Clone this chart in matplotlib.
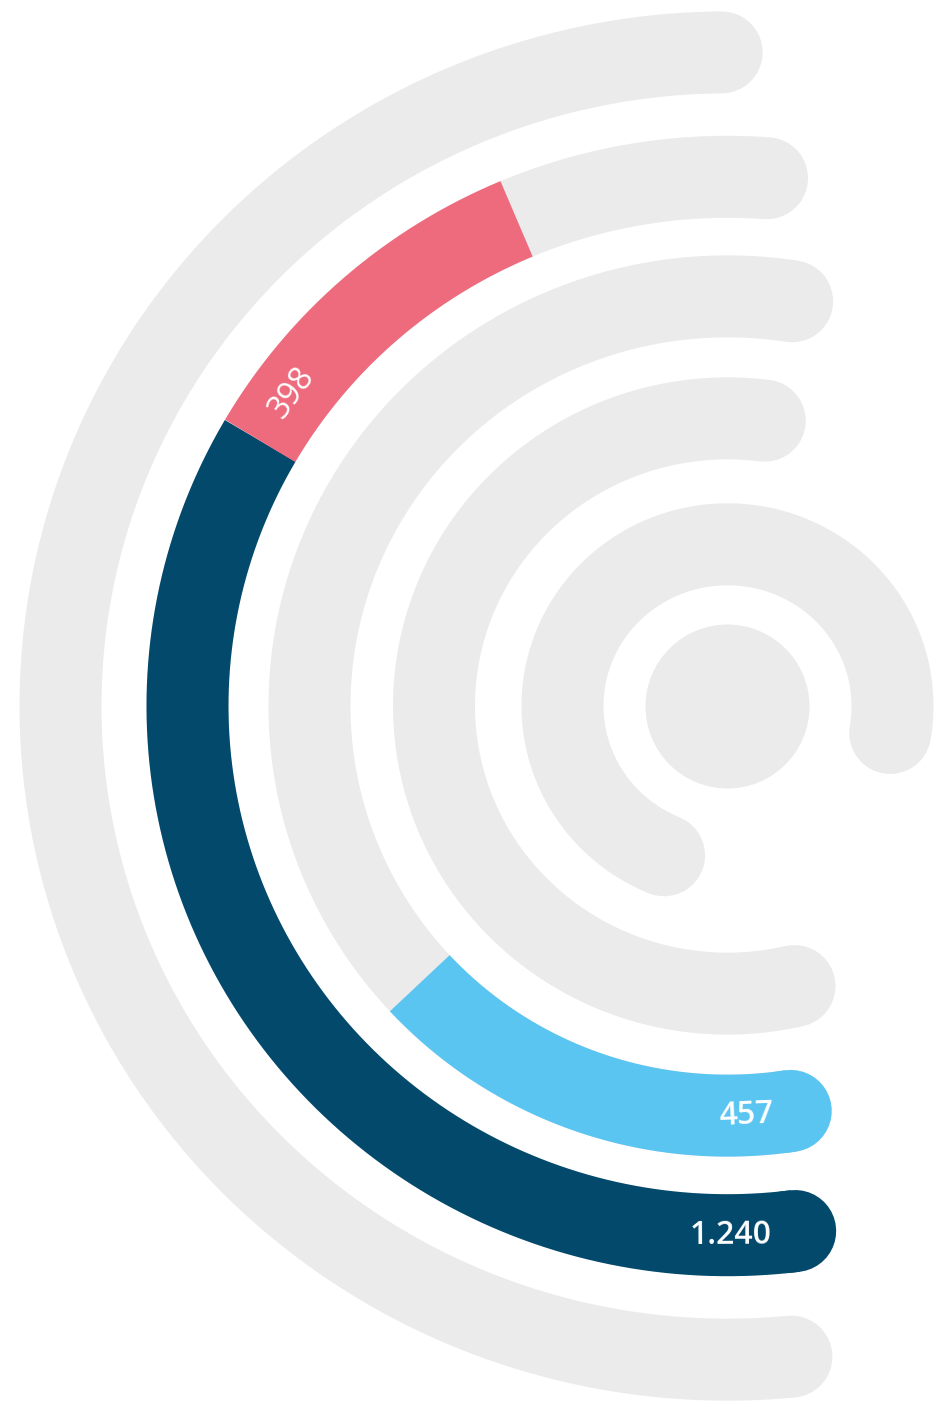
import numpy as np
import matplotlib
matplotlib.use("Agg")
import matplotlib.pyplot as plt
from matplotlib import font_manager as fm

# ---------------- data ----------------
bar_values = [1240, 398, 457]            # segment values
bar_labels = ["1.240", "398", "457"]     # printed labels
bar_ring = [4, 4, 3]                     # ring (0 = innermost disc) carrying each segment

# ---------------- layout / style ----------------
DPI = 100
W, H = 934, 1404
CX, CY = 727.5, 706.0            # ring centre, px from top-left
Y_SQUASH = 0.98                  # slight vertical compression of the rings
R_MAX = 750.0                    # radial extent of the polar axes (px units)
RING_R = [41, 165, 293.5, 418, 540, 667]   # mid radius of each ring (px)
BAND_PX = 82                     # ring thickness
ZERO_DEG = 265.0                 # math angle where value 0 sits
DEG_PER_UNIT = 0.0928            # angular scale (clockwise)
# grey track extents in the value frame (degrees clockwise from ZERO_DEG)
TRACK_SPAN = {1: (17.6, 274.6), 2: (-18.2, 182.3), 3: (-13.7, 183.9),
              4: (-12.2, 179.2), 5: (-10.5, 174.5)}
TRACK_COLOR = "#ebebeb"
SEG_COLORS = ["#02496c", "#ee6b7e", "#5bc5f2"]
LABEL_SHIFT_PX = [-50, 58, -55]  # label centre offset along the arc from segment start
LABEL_SIZE = [23, 23, 23]
LABEL_BOLD = [True, False, True]


def _w(w):
    if isinstance(w, (int, float)):
        return int(w)
    return fm.weight_dict.get(str(w).lower(), 400)


def pick_family(candidates, lo, hi, target):
    for fam in candidates:
        ws = [_w(e.weight) for e in fm.fontManager.ttflist if e.name == fam]
        ok = [w for w in ws if lo <= w <= hi]
        if ok:
            return fam, min(ok, key=lambda w: abs(w - target))
    return "DejaVu Sans", target


CANDIDATES = ["Open Sans", "Noto Sans", "Lato", "Roboto", "Inter", "Liberation Sans"]
BOLD_FAM, BOLD_W = pick_family(CANDIDATES, 550, 700, 600)
REG_FAM, REG_W = pick_family(CANDIDATES, 350, 450, 400)

fig = plt.figure(figsize=(W / DPI, H / DPI), dpi=DPI)
fig.patch.set_facecolor("white")
hw, hh = R_MAX, R_MAX * Y_SQUASH
ax = fig.add_axes([(CX - hw) / W, (H - CY - hh) / H, 2 * hw / W, 2 * hh / H],
                  projection="polar")
ax.set_theta_offset(np.deg2rad(ZERO_DEG))
ax.set_theta_direction(-1)
ax.set_ylim(0, R_MAX)
ax.set_axis_off()
ax.set_aspect("auto")

lw = BAND_PX * 72.0 / DPI


def arc(t0, t1, r, color, cap, z):
    th = np.deg2rad(np.linspace(t0, t1, 800))
    ax.plot(th, np.full_like(th, r), color=color, lw=lw,
            solid_capstyle=cap, zorder=z, clip_on=False)


# grey tracks (innermost one is a full disc)
ax.plot([0], [0], marker="o", ms=2 * lw, color=TRACK_COLOR, mew=0,
        zorder=1, clip_on=False)
for ring, (a, b) in TRACK_SPAN.items():
    arc(a, b, RING_R[ring], TRACK_COLOR, "round", 1)

# coloured stacked segments
base = {}
for v, lab, ring, col, shift, fs, bold in zip(bar_values, bar_labels, bar_ring,
                                              SEG_COLORS, LABEL_SHIFT_PX,
                                              LABEL_SIZE, LABEL_BOLD):
    b0 = base.get(ring, 0)
    b1 = b0 + v
    base[ring] = b1
    r = RING_R[ring]
    t_start = b0 * DEG_PER_UNIT if b0 > 0 else TRACK_SPAN[ring][0]
    t_end = b1 * DEG_PER_UNIT
    arc(t_start, t_end, r, col, "butt", 2)
    if b0 == 0:
        # rounded start cap: short round-capped stub hidden inside the segment
        arc(t_start, t_start + 1.0, r, col, "round", 2)
    t_lab = b0 * DEG_PER_UNIT + np.rad2deg(shift / r)
    a_math = ZERO_DEG - t_lab
    rot = (a_math - 90 + 90) % 180 - 90
    fam, wt = (BOLD_FAM, BOLD_W) if bold else (REG_FAM, REG_W)
    ax.text(np.deg2rad(t_lab), r, lab, rotation=rot, rotation_mode="anchor",
            ha="center", va="center", color="white", fontsize=fs,
            fontweight=wt, family=[fam, "DejaVu Sans"], zorder=3)

fig.savefig("out.png", dpi=DPI, facecolor="white")
